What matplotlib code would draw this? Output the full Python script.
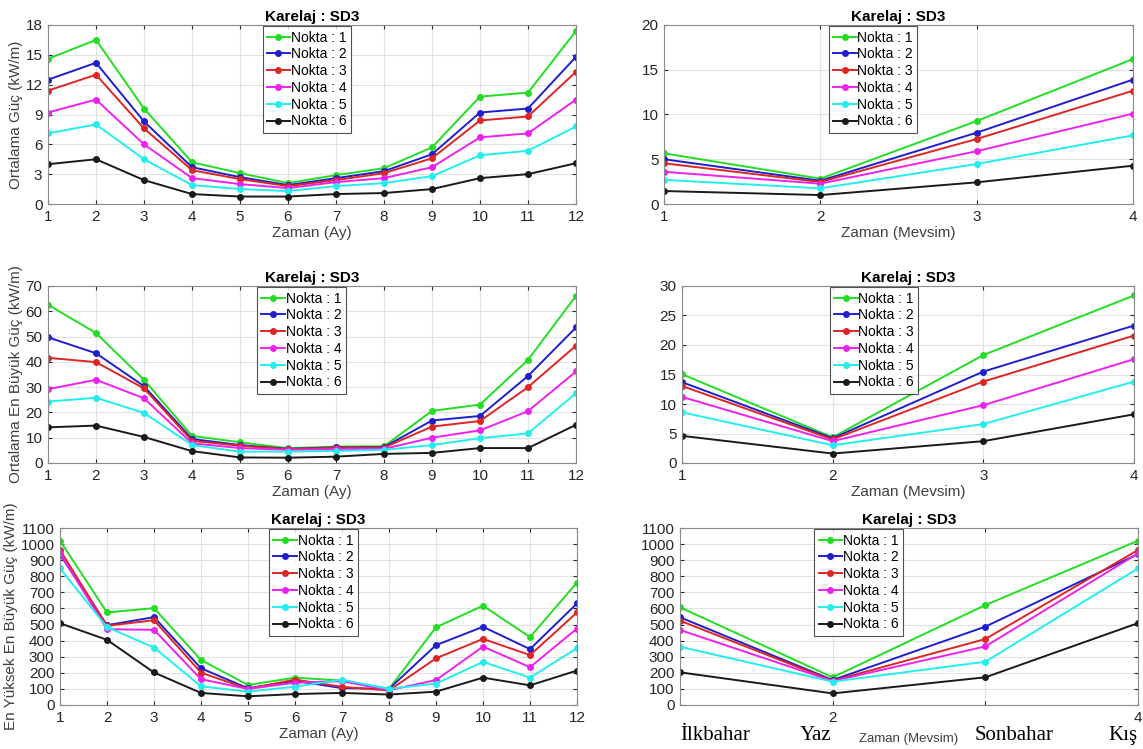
import matplotlib
matplotlib.use("Agg")
import matplotlib.pyplot as plt
from matplotlib.transforms import blended_transform_factory

plt.rcParams['font.family'] = ['Liberation Sans', 'DejaVu Sans']

# x positions
months = list(range(1, 13))
seasons = [1, 2, 3, 4]
season_names = ["İlkbahar", "Yaz", "Sonbahar", "Kış"]
point_labels = ["Nokta : 1", "Nokta : 2", "Nokta : 3", "Nokta : 4", "Nokta : 5", "Nokta : 6"]

# monthly mean power (kW/m)
mean_month = [
    [14.6, 16.5, 9.6, 4.2, 3.1, 2.1, 2.9, 3.6, 5.7, 10.8, 11.2, 17.4],
    [12.5, 14.2, 8.3, 3.7, 2.7, 1.9, 2.6, 3.3, 5.0, 9.2, 9.6, 14.8],
    [11.4, 13.0, 7.6, 3.4, 2.5, 1.8, 2.4, 3.1, 4.6, 8.4, 8.8, 13.3],
    [9.2, 10.5, 6.0, 2.6, 2.0, 1.6, 2.2, 2.6, 3.7, 6.7, 7.1, 10.5],
    [7.1, 8.0, 4.5, 1.9, 1.5, 1.3, 1.8, 2.1, 2.8, 4.9, 5.35, 7.8],
    [4.0, 4.5, 2.4, 1.0, 0.75, 0.75, 1.0, 1.1, 1.5, 2.6, 3.0, 4.1],
]
# seasonal mean power
mean_season = [
    [5.66, 2.83, 9.27, 16.2],
    [5.0, 2.6, 7.97, 13.9],
    [4.55, 2.46, 7.26, 12.66],
    [3.6, 2.27, 5.9, 10.1],
    [2.7, 1.75, 4.47, 7.67],
    [1.45, 1.0, 2.42, 4.28],
]
# monthly mean of maximum power
meanmax_month = [
    [62.6, 51.4, 32.9, 10.7, 8.2, 5.85, 6.5, 6.6, 20.6, 23.1, 40.8, 66.1],
    [49.7, 43.4, 30.4, 9.5, 7.1, 5.6, 6.2, 6.3, 16.8, 18.6, 34.4, 53.6],
    [41.6, 39.9, 29.5, 8.8, 6.8, 5.5, 6.0, 6.1, 14.4, 16.6, 30.0, 46.4],
    [29.2, 32.9, 25.6, 7.8, 5.9, 5.2, 5.5, 5.6, 10.0, 12.9, 20.5, 36.2],
    [24.3, 25.8, 19.8, 7.1, 4.5, 4.5, 4.8, 5.2, 7.1, 9.8, 11.7, 27.6],
    [14.1, 14.8, 10.3, 4.7, 2.2, 2.1, 2.5, 3.6, 4.0, 5.9, 5.9, 15.1],
]
meanmax_season = [
    [15.05, 4.35, 18.3, 28.4],
    [13.7, 4.2, 15.5, 23.3],
    [13.05, 4.0, 13.8, 21.6],
    [11.2, 3.7, 9.8, 17.6],
    [8.6, 3.0, 6.6, 13.8],
    [4.6, 1.6, 3.7, 8.25],
]
# monthly highest maximum power
max_month = [
    [1021, 575, 602, 280, 124, 170, 152, 100, 483, 617, 422, 761],
    [935, 496, 546, 228, 104, 150, 105, 100, 372, 486, 347, 631],
    [963, 492, 527, 201, 100, 158, 113, 90, 290, 411, 310, 575],
    [942, 471, 467, 160, 100, 139, 148, 92, 155, 363, 235, 475],
    [849, 484, 357, 116, 83, 114, 157, 100, 133, 268, 170, 353],
    [508, 405, 202, 75, 54, 68, 75, 65, 83, 170, 122, 214],
]
max_season = [
    [607, 172, 621, 1021],
    [545, 155, 487, 938],
    [524, 151, 410, 963],
    [466, 149, 364, 942],
    [362, 145, 269, 849],
    [203, 72, 172, 509],
]

colors = ["#22dd22", "#1f1fcf", "#dd2525", "#ee22ee", "#22eeee", "#1a1a1a"]

W, H = 1143, 749
fig = plt.figure(figsize=(W / 100, H / 100), dpi=100)


def make_ax(l, r, t, b):
    return fig.add_axes([l / W, 1 - b / H, (r - l) / W, (b - t) / H])


def draw(ax, x, series, yticks, xlabel, ylabel, leg_x):
    for vals, c, lab in zip(series, colors, point_labels):
        ax.plot(x, vals, color=c, lw=1.4, marker="o", ms=4, label=lab)
    ax.set_xlim(x[0], x[-1])
    ax.set_xticks(x)
    ax.set_ylim(yticks[0], yticks[-1])
    ax.set_yticks(yticks)
    ax.grid(True, color="#e2e2e2", lw=0.8)
    ax.set_axisbelow(True)
    ax.tick_params(direction="in", length=3, labelsize=11, colors="#262626",
                   top=True, right=True, pad=4)
    for s in ax.spines.values():
        s.set_color("#8a8a8a")
        s.set_linewidth(0.8)
    ax.set_title("Karelaj : SD3", fontsize=11, fontweight="bold", pad=3)
    if xlabel:
        ax.set_xlabel(xlabel, fontsize=11, color="#404040", labelpad=2)
    if ylabel:
        ax.set_ylabel(ylabel, fontsize=11, color="#404040", labelpad=2)
    leg = ax.legend(loc="upper center", bbox_to_anchor=(leg_x, 1.0), fontsize=10,
                    frameon=True, fancybox=False, edgecolor="#262626",
                    handlelength=1.7, handletextpad=0.05, labelspacing=0.2,
                    borderpad=0.3, borderaxespad=0.1)
    leg.get_frame().set_linewidth(0.8)
    return ax


ax1 = make_ax(48, 576, 25, 204)
draw(ax1, months, mean_month, list(range(0, 19, 3)), "Zaman (Ay)", "Ortalama Güç (kW/m)", 0.49)

ax2 = make_ax(664, 1133, 25, 204)
draw(ax2, seasons, mean_season, list(range(0, 21, 5)), "Zaman (Mevsim)", None, 0.446)

ax3 = make_ax(48, 576, 286, 463)
draw(ax3, months, meanmax_month, list(range(0, 71, 10)), "Zaman (Ay)",
     "Ortalama En Büyük Güç (kW/m)", 0.48)

ax4 = make_ax(682, 1134, 286, 463)
draw(ax4, seasons, meanmax_season, list(range(0, 31, 5)), "Zaman (Mevsim)", None, 0.425)

ax5 = make_ax(60, 577, 528, 705)
draw(ax5, months, max_month, list(range(0, 1101, 100)), "Zaman (Ay)",
     "En Yüksek En Büyük Güç (kW/m)", 0.49)

ax6 = make_ax(680, 1138, 528, 705)
draw(ax6, seasons, max_season, list(range(0, 1101, 100)), None, None, 0.39)
ax6.set_xticklabels(["", "2", "", "4"])
ax6.set_xlabel("Zaman (Mevsim)", fontsize=9.5, color="#404040")
ax6.xaxis.set_label_coords(0.5, -0.16)
tr = blended_transform_factory(ax6.transData, ax6.transAxes)
serif = dict(fontsize=15, family="Liberation Serif", color="black", va="center")
ax6.text(1.0, -0.17, season_names[0], transform=tr, ha="left", **serif)
ax6.text(1.99, -0.17, season_names[1], transform=tr, ha="right", **serif)
ax6.text(2.93, -0.17, season_names[2], transform=tr, ha="left", **serif)
ax6.text(4.0, -0.17, season_names[3], transform=tr, ha="right", **serif)

fig.savefig("out.png", dpi=100, facecolor="white")
